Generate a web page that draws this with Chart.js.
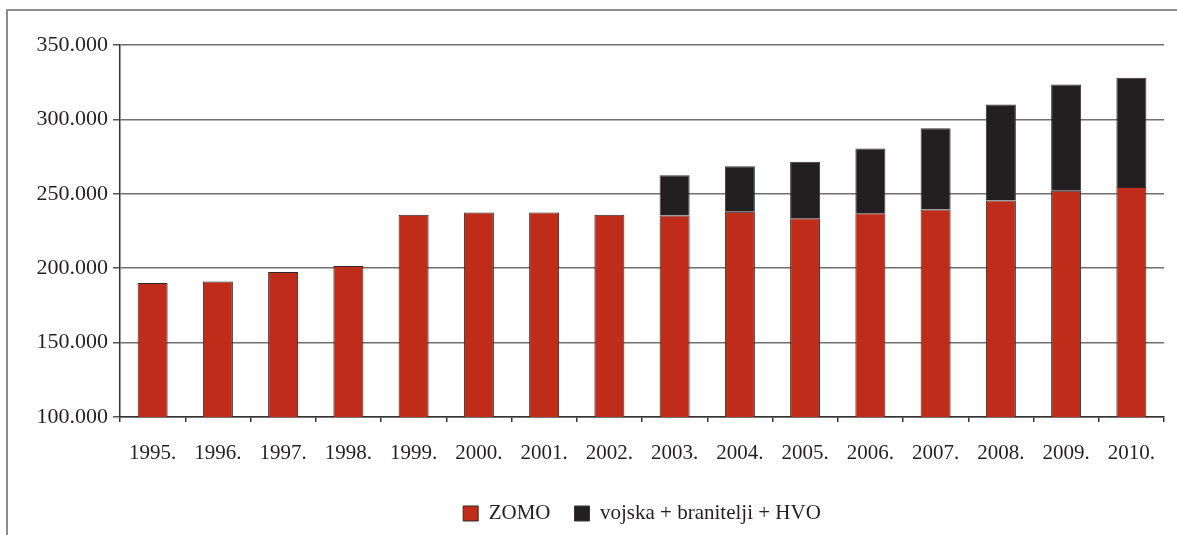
<!DOCTYPE html>
<html>
<head>
<meta charset="utf-8">
<script src="https://cdn.jsdelivr.net/npm/chart.js@4"></script>
<style>
  html, body { margin: 0; padding: 0; background: #fff; }
  #wrap { position: relative; width: 1177px; height: 535px; overflow: hidden; }
  #frame { position: absolute; left: 6px; top: 9px; width: 1200px; height: 600px;
           border-left: 2px solid #8c8c8c; border-top: 2px solid #8c8c8c; }
  canvas { position: absolute; left: 0; top: 0; }
</style>
</head>
<body>
<div id="wrap">
  <div id="frame"></div>
  <canvas id="chart" width="1177" height="535"></canvas>
</div>
<script>
// godine
const years = ['1995.', '1996.', '1997.', '1998.', '1999.', '2000.', '2001.', '2002.',
               '2003.', '2004.', '2005.', '2006.', '2007.', '2008.', '2009.', '2010.'];
// ZOMO
const zomo = [190000, 191000, 197500, 201500, 236000, 237500, 237500, 236000,
              235500, 238000, 233500, 237000, 239500, 245500, 252000, 254500];
// vojska + branitelji + HVO (dio iznad ZOMO)
const vojska = [null, null, null, null, null, null, null, null,
                27000, 30500, 38000, 43500, 54500, 64500, 71500, 73500];

const yMin = 100000;
const yMax = 350000;
const yStep = 50000;

const FONT = "'Liberation Serif', 'DejaVu Serif', serif";
const TEXT = '#231f20';

function fmt(v) {
    return String(v).replace(/\B(?=(\d{3})+(?!\d))/g, '.');
}

const ctx = document.getElementById('chart');

new Chart(ctx, {
    type: 'bar',
    data: {
        labels: years,
        datasets: [{
            label: 'ZOMO',
            data: zomo,
            backgroundColor: '#bf2d1a',
            borderColor: '#2e2828',
            borderWidth: 1,
            borderSkipped: 'bottom'
        }, {
            label: 'vojska + branitelji + HVO',
            data: vojska,
            backgroundColor: '#231f20',
            borderColor: '#3a3535',
            borderWidth: 1,
            borderSkipped: 'bottom'
        }]
    },
    options: {
        responsive: false,
        animation: false,
        maintainAspectRatio: false,
        layout: {
            padding: { top: 45, right: 13, left: 0, bottom: 1 }
        },
        datasets: {
            bar: { barPercentage: 0.46, categoryPercentage: 1 }
        },
        plugins: {
            tooltip: { enabled: false },
            legend: {
                position: 'bottom',
                fullSize: false,
                labels: {
                    boxWidth: 15,
                    boxHeight: 15,
                    padding: 24,
                    color: TEXT,
                    font: { family: FONT, size: 21 }
                }
            }
        },
        scales: {
            x: {
                stacked: true,
                grid: {
                    offset: true,
                    drawOnChartArea: true,
                    color: c => c.index === years.length ? '#8c8c8c' : 'rgba(0,0,0,0)',
                    tickColor: '#333',
                    tickLength: 5,
                    lineWidth: 1.5
                },
                border: { color: '#333', width: 1.5 },
                ticks: {
                    color: TEXT,
                    padding: 19,
                    maxRotation: 0,
                    autoSkip: false,
                    font: { family: FONT, size: 21 }
                },
                afterFit: s => { s.height = 62; }
            },
            y: {
                stacked: true,
                min: yMin,
                max: yMax,
                grid: {
                    color: '#707070',
                    lineWidth: 1.5,
                    tickColor: '#555',
                    tickLength: 7
                },
                border: { color: '#333', width: 1.5 },
                ticks: {
                    stepSize: yStep,
                    color: TEXT,
                    padding: 5,
                    font: { family: FONT, size: 22 },
                    callback: v => fmt(v)
                },
                afterFit: s => { s.width = 120; }
            }
        }
    }
});
</script>
</body>
</html>
